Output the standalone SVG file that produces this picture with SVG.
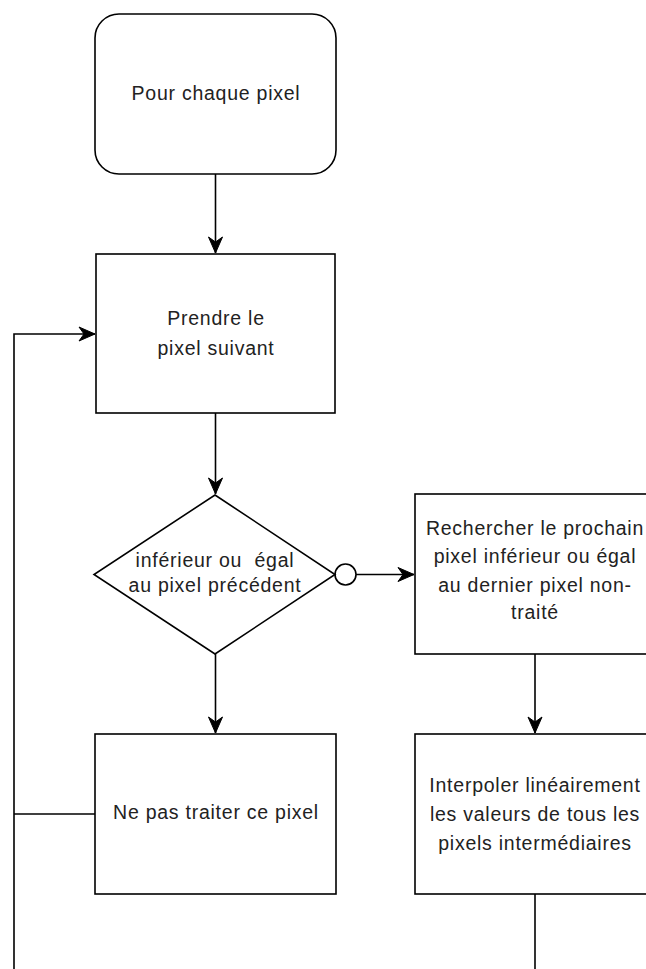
<svg xmlns="http://www.w3.org/2000/svg" width="646" height="969" viewBox="0 0 646 969">
  <style>
    .shape { fill: #ffffff; stroke: #000000; stroke-width: 1.6; }
    .edge { fill: none; stroke: #000000; stroke-width: 1.6; }
    .label { font-family: "Liberation Sans", Arial, sans-serif; font-size: 19.5px; letter-spacing: 0.75px; fill: #222222; text-anchor: middle; }
  </style>
  <defs>
    <marker id="arrow" markerUnits="userSpaceOnUse" viewBox="-17 -8 18 16" refX="0" refY="0" markerWidth="18" markerHeight="16" orient="auto">
      <path d="M0,0 L-16,-7 L-11,0 L-16,7 Z" fill="#000000" stroke="#000000" stroke-width="1"/>
    </marker>
  </defs>

  <rect width="646" height="969" fill="#ffffff"/>

  <!-- connectors -->
  <g id="connectors">
    <path class="edge" d="M215.5,174 V253" marker-end="url(#arrow)"/>
    <path class="edge" d="M215.5,413 V494" marker-end="url(#arrow)"/>
    <path class="edge" d="M215.5,654 V733" marker-end="url(#arrow)"/>
    <circle class="edge" cx="345.5" cy="574.5" r="10.5" fill="#ffffff"/>
    <path class="edge" d="M356,574.5 H414" marker-end="url(#arrow)"/>
    <path class="edge" d="M535,654 V733" marker-end="url(#arrow)"/>
    <path class="edge" d="M535,894 V975"/>
    <path class="edge" d="M95,814 H14"/>
    <path class="edge" d="M14,975 V334 H95" marker-end="url(#arrow)"/>
  </g>

  <g id="start">
    <rect class="shape" x="95" y="14" width="241" height="160" rx="24" ry="24"/>
    <text class="label" x="216" y="100">Pour chaque pixel</text>
  </g>

  <g id="next-pixel">
    <rect class="shape" x="96" y="254" width="239" height="159"/>
    <text class="label" x="216" y="325">Prendre le</text>
    <text class="label" x="216" y="355">pixel suivant</text>
  </g>

  <g id="decision">
    <path class="shape" d="M215,495 L335,574.5 L215,654 L94,574.5 Z"/>
    <text class="label" x="215" y="567" xml:space="preserve">inférieur ou  égal</text>
    <text class="label" x="215" y="592">au pixel précédent</text>
  </g>

  <g id="search-next">
    <rect class="shape" x="415" y="494" width="240" height="160"/>
    <text class="label" x="535" y="535">Rechercher le prochain</text>
    <text class="label" x="535" y="563">pixel inférieur ou égal</text>
    <text class="label" x="535" y="592">au dernier pixel non-</text>
    <text class="label" x="535" y="619">traité</text>
  </g>

  <g id="skip-pixel">
    <rect class="shape" x="95" y="734" width="241" height="160"/>
    <text class="label" x="216" y="819">Ne pas traiter ce pixel</text>
  </g>

  <g id="interpolate">
    <rect class="shape" x="415" y="734" width="240" height="160"/>
    <text class="label" x="535" y="792">Interpoler linéairement</text>
    <text class="label" x="535" y="821">les valeurs de tous les</text>
    <text class="label" x="535" y="850">pixels intermédiaires</text>
  </g>
</svg>
